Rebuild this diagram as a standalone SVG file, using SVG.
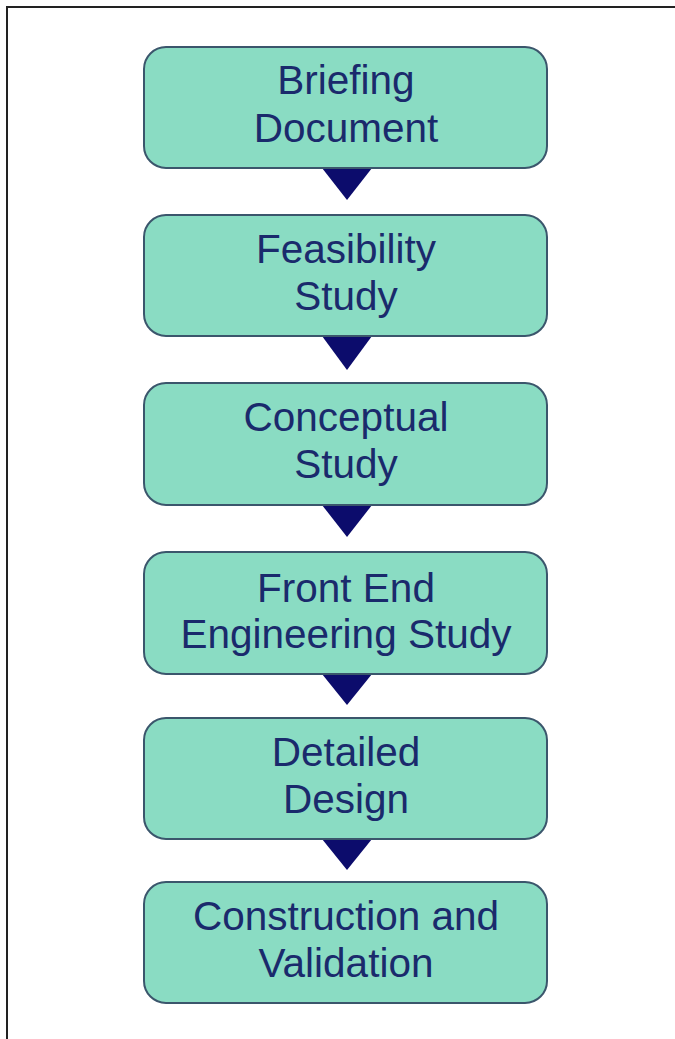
<svg xmlns="http://www.w3.org/2000/svg" width="675" height="1039" viewBox="0 0 675 1039">
<style>
.box{fill:#8adcc3;stroke:#3b566c;stroke-width:2}
.lbl{font-family:"Liberation Sans",Arial,sans-serif;font-size:40.5px;fill:#1a2a6c;text-anchor:middle}
.arr{fill:#0c0c6c}
.frame{stroke:#222;stroke-width:2;fill:none}
</style>
<rect width="675" height="1039" fill="#ffffff"/>
<path class="frame" d="M7,1039 V7 H675"/>
<g id="connectors">
<polygon class="arr" points="322,168 372,168 347,200"/>
<polygon class="arr" points="322,336 372,336 347,370"/>
<polygon class="arr" points="322,505 372,505 347,537"/>
<polygon class="arr" points="322,674 372,674 347,705"/>
<polygon class="arr" points="322,839 372,839 347,870"/>
</g>
<g id="n1"><rect class="box" x="144" y="47" width="403" height="121" rx="22"/>
<text class="lbl" x="346" y="94">Briefing</text><text class="lbl" x="346" y="142">Document</text></g>
<g id="n2"><rect class="box" x="144" y="215" width="403" height="121" rx="22"/>
<text class="lbl" x="346" y="263">Feasibility</text><text class="lbl" x="346" y="310">Study</text></g>
<g id="n3"><rect class="box" x="144" y="383" width="403" height="122" rx="22"/>
<text class="lbl" x="346" y="431">Conceptual</text><text class="lbl" x="346" y="478">Study</text></g>
<g id="n4"><rect class="box" x="144" y="552" width="403" height="122" rx="22"/>
<text class="lbl" x="346" y="602">Front End</text><text class="lbl" x="346" y="648">Engineering Study</text></g>
<g id="n5"><rect class="box" x="144" y="718" width="403" height="121" rx="22"/>
<text class="lbl" x="346" y="766">Detailed</text><text class="lbl" x="346" y="813">Design</text></g>
<g id="n6"><rect class="box" x="144" y="882" width="403" height="121" rx="22"/>
<text class="lbl" x="346" y="930">Construction and</text><text class="lbl" x="346" y="977">Validation</text></g>
</svg>
